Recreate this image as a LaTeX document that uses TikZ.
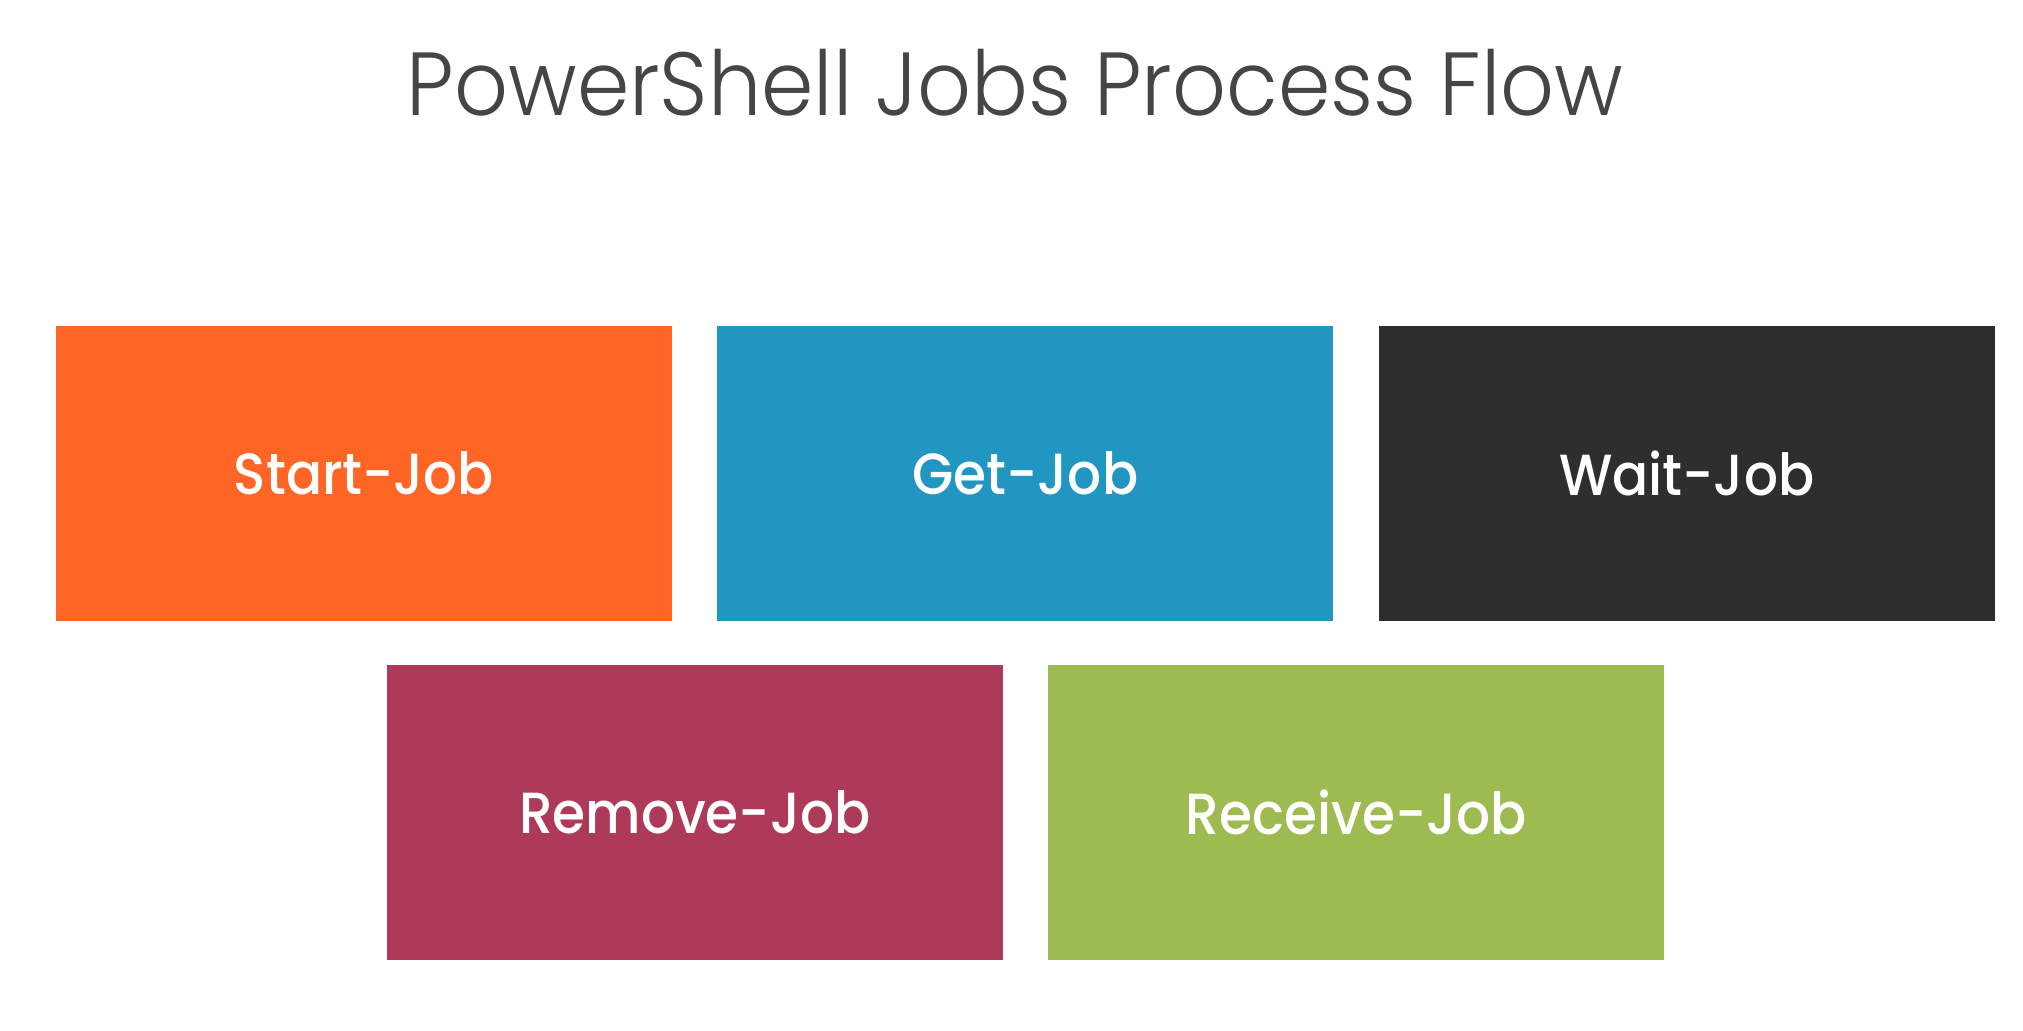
\documentclass[tikz,border=0pt]{standalone}
\usepackage{fontspec}
\usepackage{tikz}
\usetikzlibrary{positioning, calc}
\newfontfamily\titlefont{Poppins Light}[FakeStretch=0.94]
\newfontfamily\jobfont{Poppins Medium}[FakeStretch=0.92]
\definecolor{jorange}{HTML}{FF6626}
\definecolor{jblue}{HTML}{2196C1}
\definecolor{jdark}{HTML}{2E2E2E}
\definecolor{jred}{HTML}{AE3A5A}
\definecolor{jgreen}{HTML}{9DBB50}
\definecolor{jtitle}{HTML}{454545}
\tikzset{
node distance=0.44cm, % gap between two boxes in a row
job/.style={minimum width=6.16cm, minimum height=2.95cm, inner sep=0pt,
  text=white, font=\jobfont\fontsize{16.5}{20}\selectfont}, % one coloured box
}

\begin{document}
\begin{tikzpicture}
  \useasboundingbox (0,0) rectangle (20.23,-10.31);
  \node[text=jtitle, font=\titlefont\fontsize{25.5}{30}\selectfont, anchor=base] (title) at (10.15,-1.16) {PowerShell Jobs Process Flow};

  \node[job, fill=jorange] (start) at (3.64,-4.735) {Start-Job};
  \node[job, fill=jblue, right=of start] (get) {Get-Job};
  \node[job, fill=jdark, right=of get] (wait) {Wait-Job};

  \node[job, fill=jred, anchor=north, yshift=-0.425cm] (remove) at ($(start.south)!0.5!(get.south)$) {Remove-Job};
  \node[job, fill=jgreen, right=of remove] (receive) {Receive-Job};
\end{tikzpicture}
\end{document}
